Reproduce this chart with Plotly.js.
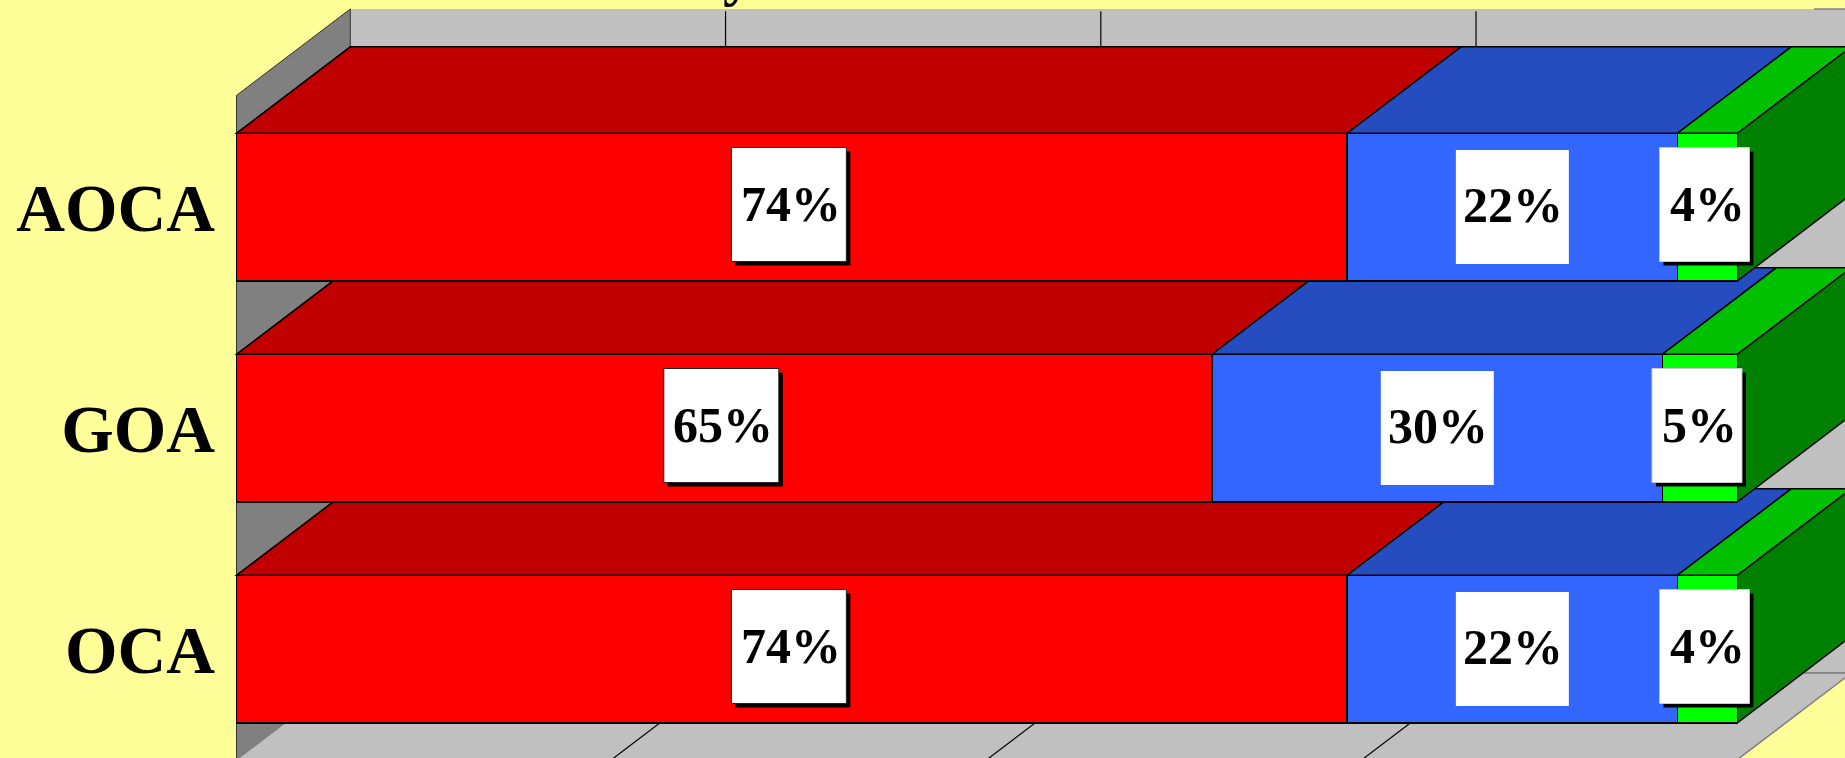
<!DOCTYPE html>
<html>
<head>
<meta charset="utf-8">
<script src="https://cdn.plot.ly/plotly-3.0.1.min.js"></script>
<style>html,body{margin:0;padding:0;background:#FFFF99;overflow:hidden}</style>
</head>
<body>
<div id="chart" style="width:1845px;height:758px"></div>
<script>
// ---- data ----
const categories = ['OCA', 'GOA', 'AOCA'];
const redValues = [74, 65, 74];
const blueValues = [22, 30, 22];
const greenValues = [4, 5, 4];
const xTicks = [0, 25, 50, 75, 100];
const titleFragment = 'y';

// ---- styling ----
const series = [
  {name: 'Red', values: redValues, front: '#FF0000', top: '#C00000', shadow: true, border: '#222222', w: 115, tx: 2},
  {name: 'Blue', values: blueValues, front: '#3366FF', top: '#264DBF', shadow: false, border: null, w: 113, tx: 0.5},
  {name: 'Green', values: greenValues, front: '#00FF00', top: '#00C000', shadow: true, border: '#C8C8C8', w: 90, tx: 3}
];
const sideColor = '#008000';
const PX_X = 15.01, PX_Y = 221;            // pixels per data unit
const dx = 113.8 / PX_X, dy = 86.4 / PX_Y; // depth of the 3-D extrusion
const barH = 147.5 / PX_Y;
const LINE = 1.5;
const yMin = -0.5, yMax = 2.505;

const f = v => v.toFixed(4);
const poly = pts => 'M' + pts.map(p => f(p[0]) + ',' + f(p[1])).join(' L') + ' Z';
const face = (pts, fill, color, width) => ({
  type: 'path', xref: 'x', yref: 'y', layer: 'between', path: poly(pts),
  fillcolor: fill, line: {color: color === undefined ? '#000' : color, width: width === undefined ? LINE : width}
});
const seg = (x0, y0, x1, y1, color, width) => ({
  type: 'line', xref: 'x', yref: 'y', layer: 'between', x0, y0, x1, y1,
  line: {color, width}
});

const shapes = [];
// walls and floor
shapes.push(face([[dx, yMin + dy], [100 + dx, yMin + dy], [100 + dx, yMax + dy], [dx, yMax + dy]], '#C0C0C0', '#C0C0C0', 0));
shapes.push(seg(105.1, yMax + dy, 100 + dx, yMax + dy, '#808080', 1.5));
shapes.push(seg(dx, yMin + dy, 100 + dx, yMin + dy, '#808080', 1.5));
shapes.push(face([[0, yMin], [dx, yMin + dy], [dx, yMax + dy], [0, yMax]], '#808080', '#333333', 1));
shapes.push(face([[0, yMin], [100, yMin], [100 + dx, yMin + dy], [dx, yMin + dy]], '#C0C0C0', '#808080', 1.5));
xTicks.slice(1, -1).forEach(t => {
  shapes.push(seg(t + dx, yMin + dy, t + dx, yMax + dy - 0.01, '#000', 1.2));
  shapes.push(seg(t, yMin, t + dx, yMin + dy, '#000', 1.2));
});
// extruded faces, lowest row first
categories.forEach((c, i) => {
  const yb = i - barH / 2, yt = i + barH / 2;
  let start = 0;
  series.forEach(s => {
    const end = start + s.values[i];
    shapes.push(face([[start, yt], [end, yt], [end + dx, yt + dy], [start + dx, yt + dy]], s.top));
    start = end;
  });
  shapes.push(face([[start, yt], [start, yb], [start + dx, yb + dy], [start + dx, yt + dy]], sideColor));
});

// value labels: white boxes with optional drop shadow
const annotations = [];
categories.forEach((c, i) => {
  let start = 0;
  series.forEach(s => {
    const v = s.values[i];
    const mid = start + v / 2;
    start += v;
    const ox = s.shadow ? -3 : 0, oy = s.shadow ? 2.5 : 0;
    const hw = s.w / 2, hh = 57;
    const box = (sx, sy, fill, line) => ({
      type: 'rect', layer: 'above', xref: 'x', yref: 'y',
      xsizemode: 'pixel', ysizemode: 'pixel', xanchor: mid, yanchor: i,
      x0: ox + sx - hw, x1: ox + sx + hw, y0: oy + sy - hh, y1: oy + sy + hh,
      fillcolor: fill, line: line ? {color: line, width: 1} : {width: 0}
    });
    if (s.shadow) shapes.push(box(4, -4, '#000000', null));
    shapes.push(box(0, 0, '#FFFFFF', s.border));
    annotations.push({
      x: mid, y: i, xref: 'x', yref: 'y', text: v + '%', showarrow: false,
      xshift: ox + s.tx, yshift: s.shadow ? oy + 1 : 2.5,
      font: {family: '"Liberation Serif", serif', size: 50, color: '#000', weight: 700}
    });
  });
});
// the title itself is cropped by the top of the picture
annotations.push({
  x: (738 - 230) / (1845 - 230), y: 1, xref: 'paper', yref: 'paper', text: titleFragment, showarrow: false,
  xanchor: 'center', yanchor: 'bottom', yshift: -8.5,
  font: {family: '"Liberation Serif", serif', size: 60, color: '#000', weight: 700}
});

const traces = series.map(s => ({
  type: 'bar', orientation: 'h', name: s.name, y: categories, x: s.values,
  marker: {color: s.front, line: {color: '#000', width: LINE}},
  hoverinfo: 'skip'
}));

const layout = {
  width: 1845, height: 758, autosize: false,
  margin: {l: 230, r: 0, t: 0, b: 0, pad: 0},
  paper_bgcolor: '#FFFF99', plot_bgcolor: 'rgba(0,0,0,0)',
  barmode: 'stack', bargap: 1 - barH, showlegend: false,
  xaxis: {
    range: [-6.5 / PX_X, (1845 - 236.5) / PX_X], showgrid: false, zeroline: false,
    showticklabels: false, showline: false, ticks: '', tickvals: xTicks
  },
  yaxis: {
    type: 'category', categoryorder: 'array', categoryarray: categories,
    range: [(649 - 758) / PX_Y, 649 / PX_Y], showgrid: false, zeroline: false, showline: false,
    ticks: '', ticklabelstandoff: 14, ticklabelshift: -2.5,
    tickfont: {family: '"Liberation Serif", serif', size: 67.5, color: '#000', weight: 700}
  },
  shapes, annotations
};
Plotly.newPlot('chart', traces, layout, {displayModeBar: false, staticPlot: true});
</script>
</body>
</html>
